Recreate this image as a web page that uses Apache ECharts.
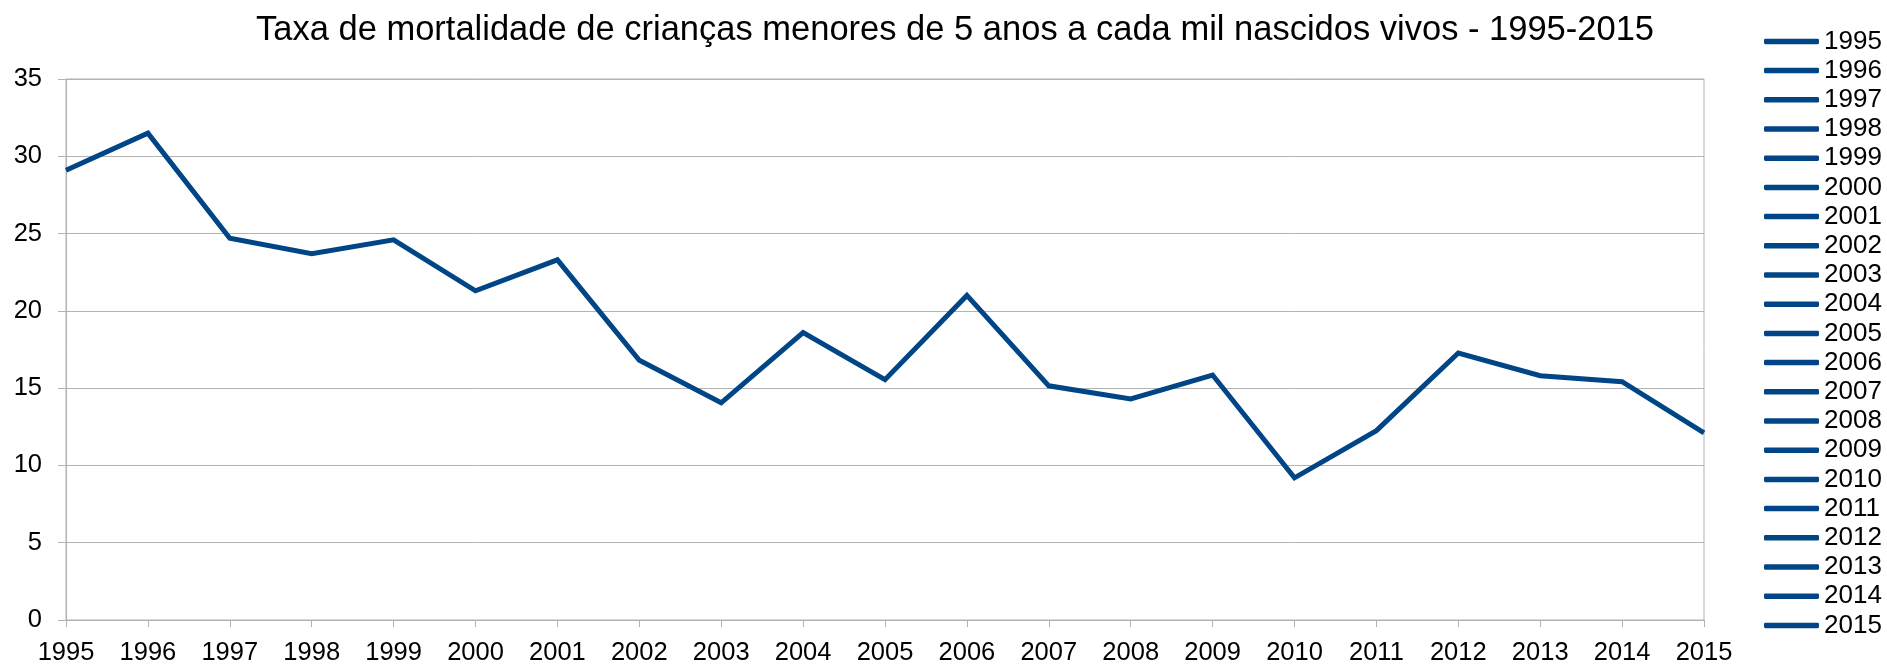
<!DOCTYPE html>
<html>
<head>
<meta charset="utf-8">
<script src="https://cdn.jsdelivr.net/npm/echarts@6/dist/echarts.min.js"></script>
<style>
html,body{margin:0;padding:0;background:#fff;}
#c{width:1887px;height:666px;}
</style>
</head>
<body>
<div id="c"></div>
<script>
const titleText = 'Taxa de mortalidade de crianças menores de 5 anos a cada mil nascidos vivos - 1995-2015';
const years = ['1995','1996','1997','1998','1999','2000','2001','2002','2003','2004','2005','2006','2007','2008','2009','2010','2011','2012','2013','2014','2015'];
const rates = [29.1, 31.5, 24.7, 23.7, 24.6, 21.3, 23.3, 16.8, 14.05, 18.6, 15.55, 21.0, 15.15, 14.3, 15.85, 9.2, 12.25, 17.27, 15.8, 15.42, 12.1];
const yTicks = {min: 0, max: 35, interval: 5};

const color = '#004586';
const gridColor = '#b3b3b3';
const font = 'Liberation Sans, Arial, sans-serif';

const series = [{
  name: 'Taxa',
  type: 'line',
  data: rates,
  symbol: 'none',
  lineStyle: {color: color, width: 5, join: 'miter'},
  itemStyle: {color: color},
  silent: true,
  z: 3
}];
years.forEach(y => series.push({
  name: y, type: 'line', data: [], symbol: 'none',
  lineStyle: {color: color, width: 5}, itemStyle: {color: color}
}));

const chart = echarts.init(document.getElementById('c'), null, {renderer: 'canvas'});
chart.setOption({
  animation: false,
  backgroundColor: '#ffffff',
  title: {
    text: titleText,
    left: 256, top: 13, padding: 0,
    textStyle: {fontFamily: font, fontSize: 34.5, fontWeight: 'normal', color: '#000'}
  },
  legend: {
    orient: 'vertical',
    left: 1764, top: 28.4, padding: 0,
    data: years,
    icon: 'roundRect',
    itemWidth: 55, itemHeight: 5.5, itemGap: 3.2,
    selectedMode: false,
    textStyle: {fontFamily: font, fontSize: 26, color: '#000', lineHeight: 26}
  },
  grid: {
    left: 66, right: 183, top: 79, bottom: 45,
    show: true, borderColor: gridColor, borderWidth: 1
  },
  xAxis: {
    type: 'category', data: years, boundaryGap: false,
    axisLine: {lineStyle: {color: gridColor, width: 1}},
    axisTick: {show: true, length: 7, alignWithLabel: true, lineStyle: {color: gridColor}},
    axisLabel: {fontFamily: font, fontSize: 25.5, color: '#000', margin: 20, interval: 0},
    splitLine: {show: false}
  },
  yAxis: {
    type: 'value', min: yTicks.min, max: yTicks.max, interval: yTicks.interval,
    axisLine: {show: true, lineStyle: {color: gridColor, width: 1}},
    axisTick: {show: true, length: 8, lineStyle: {color: gridColor}},
    axisLabel: {fontFamily: font, fontSize: 25.5, color: '#000', margin: 24},
    splitLine: {show: true, lineStyle: {color: gridColor, width: 1}}
  },
  series: series
});
</script>
</body>
</html>
